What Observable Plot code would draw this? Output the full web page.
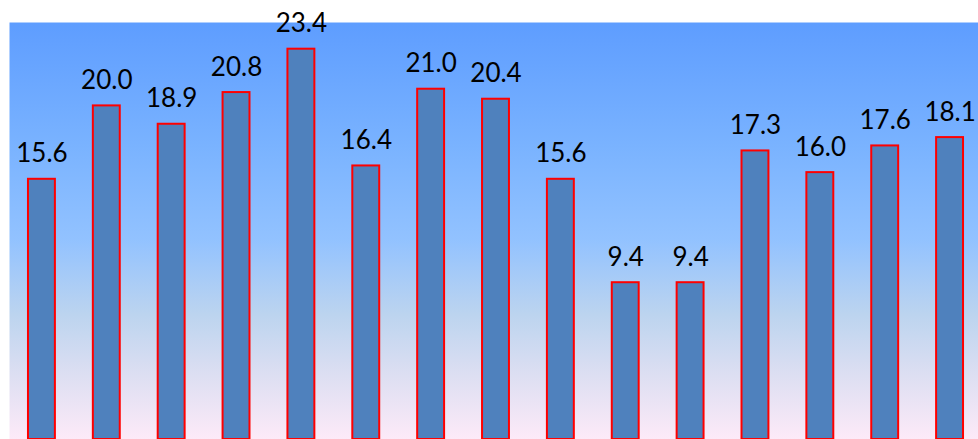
<!DOCTYPE html>
<html>
<head>
<meta charset="utf-8">
<script src="https://cdn.jsdelivr.net/npm/d3@7"></script>
<script src="https://cdn.jsdelivr.net/npm/@observablehq/plot@0.6"></script>
<style>
  html, body { margin: 0; padding: 0; background: #fff; overflow: hidden; }
  #chart svg { display: block; }
</style>
</head>
<body>
<div id="chart"></div>
<script>
const categories = ["1","2","3","4","5","6","7","8","9","10","11","12","13","14","15"];
const values = [15.6, 20.0, 18.9, 20.8, 23.4, 16.4, 21.0, 20.4, 15.6, 9.4, 9.4, 17.3, 16.0, 17.6, 18.1];
const labels = ["15.6","20.0","18.9","20.8","23.4","16.4","21.0","20.4","15.6","9.4","9.4","17.3","16.0","17.6","18.1"];

const data = categories.map((c, i) => ({cat: c, value: values[i], label: labels[i]}));

const chart = Plot.plot({
  width: 978,
  height: 439,
  marginTop: 22,
  marginBottom: 0,
  marginLeft: 9,
  marginRight: 0,
  style: {background: "transparent", fontFamily: "Lato, 'Noto Sans', sans-serif", overflow: "visible"},
  x: {domain: categories, range: [9, 982], round: false, paddingInner: 0.585, paddingOuter: 0.2925, axis: null},
  y: {domain: [0, 25], axis: null},
  marks: [
    Plot.frame({fill: "url(#bggrad)", stroke: "none", insetRight: -10}),
    Plot.barY(data, {x: "cat", y: "value", fill: "#4F81BD", stroke: "#FF0000", strokeWidth: 2}),
    Plot.text(data, {x: "cat", y: "value", text: "label", dy: -17, lineAnchor: "bottom", fontSize: 26, fill: "#000"})
  ]
});

const defs = d3.select(chart).insert("defs", ":first-child");
const g = defs.append("linearGradient").attr("id", "bggrad").attr("x1", 0).attr("y1", 0).attr("x2", 0).attr("y2", 1);
[[0, "#5E9DFF"], [0.3, "#7AB3FF"], [0.52, "#92C2FF"], [0.7, "#BCD4EF"], [0.85, "#DEDFF2"], [1, "#FDEAF8"]].forEach(([o, c]) => {
  g.append("stop").attr("offset", o).attr("stop-color", c);
});

document.getElementById("chart").appendChild(chart);
</script>
</body>
</html>
